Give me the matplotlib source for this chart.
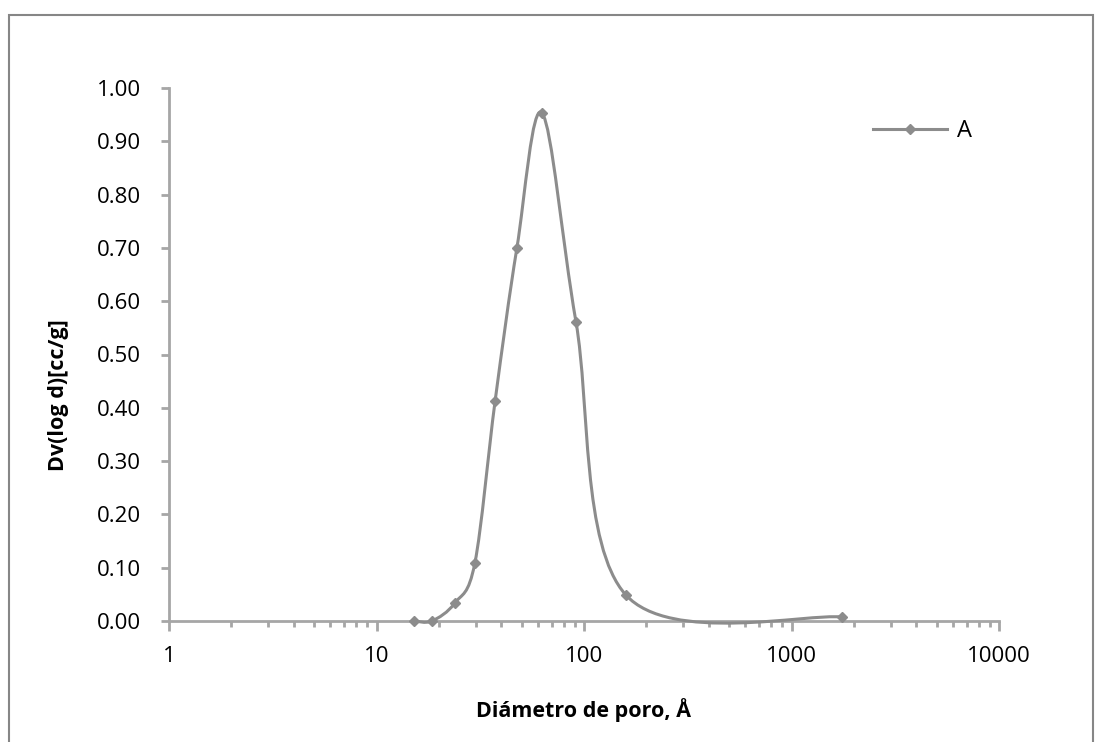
import matplotlib.pyplot as plt
import numpy as np
from matplotlib.path import Path
from matplotlib.patches import PathPatch, Rectangle
from matplotlib.lines import Line2D
from matplotlib.ticker import FixedLocator, LogLocator, NullFormatter

# datos
diametro = [15.2, 18.5, 23.9, 29.8, 37.3, 47.5, 62.8, 91.5, 159, 1750]
dv = [0.0, 0.0, 0.034, 0.109, 0.413, 0.700, 0.953, 0.561, 0.049, 0.0075]
yticks = [0.0, 0.1, 0.2, 0.3, 0.4, 0.5, 0.6, 0.7, 0.8, 0.9, 1.0]
xticks = [1, 10, 100, 1000, 10000]

gris = '#8c8c8c'
eje = '#a6a6a6'
plt.rcParams['font.family'] = ['Open Sans', 'DejaVu Sans']

fig = plt.figure(figsize=(10.96, 7.42), dpi=100)
fig.patches.append(Rectangle((9 / 1096, -0.01), 1084 / 1096, 1 - 15 / 742 + 0.01,
                             transform=fig.transFigure, fill=False,
                             edgecolor='#868686', linewidth=1.5))
ax = fig.add_axes([169 / 1096, 1 - 621 / 742, 830 / 1096, 533 / 742])

# linea suavizada tipo Excel (Catmull-Rom en espacio log-x)
lx = np.log10(diametro)
y = np.array(dv)
n = len(lx)
verts = [(lx[0], y[0])]
codes = [Path.MOVETO]
for i in range(n - 1):
    p0 = np.array([lx[max(i - 1, 0)], y[max(i - 1, 0)]])
    p1 = np.array([lx[i], y[i]])
    p2 = np.array([lx[i + 1], y[i + 1]])
    p3 = np.array([lx[min(i + 2, n - 1)], y[min(i + 2, n - 1)]])
    c1 = p1 + (p2 - p0) / 6
    c2 = p2 - (p3 - p1) / 6
    verts += [tuple(c1), tuple(c2), tuple(p2)]
    codes += [Path.CURVE4] * 3
verts = [(10 ** vx, vy) for vx, vy in verts]
ax.add_patch(PathPatch(Path(verts, codes), facecolor='none', edgecolor=gris,
                       linewidth=2.2, zorder=3, clip_on=False))
ax.plot(diametro, dv, linestyle='none', marker='D', markersize=5,
        color=gris, zorder=4, clip_on=False)

ax.set_xscale('log')
ax.set_xlim(1, 10000)
ax.set_ylim(0, 1.0)
ax.xaxis.set_major_locator(FixedLocator(xticks))
ax.xaxis.set_minor_locator(LogLocator(base=10, subs=np.arange(2, 10)))
ax.xaxis.set_minor_formatter(NullFormatter())
ax.set_xticklabels([str(v) for v in xticks])
ax.set_yticks(yticks)
ax.set_yticklabels(['%.2f' % v for v in yticks])

for s in ['top', 'right']:
    ax.spines[s].set_visible(False)
for s in ['left', 'bottom']:
    ax.spines[s].set_color(eje)
    ax.spines[s].set_linewidth(2)
ax.tick_params(axis='both', which='major', color=eje, width=2, labelsize=16,
               direction='out')
ax.tick_params(axis='x', which='major', length=7, pad=11)
ax.tick_params(axis='x', which='minor', length=4, width=2, color=eje, direction='out')
ax.tick_params(axis='y', which='major', length=6, pad=14)

ax.set_xlabel('Diámetro de poro, Å', fontsize=15.5, fontweight='bold')
ax.xaxis.set_label_coords(0.5, (621 - 698) / 533)
ax.set_ylabel('Dv(log d)[cc/g]', fontsize=15.5, fontweight='bold')
ax.yaxis.set_label_coords((69 - 169) / 830, (621 - 395) / 533)

ax.legend([Line2D([], [], color=gris, linewidth=2.2, marker='D', markersize=5)], ['A'],
          loc='center left', bbox_to_anchor=((873 - 169) / 830, (621 - 131) / 533),
          frameon=False, borderpad=0, borderaxespad=0,
          fontsize=17, handlelength=3.13, handletextpad=0.42)

fig.savefig('out.png', dpi=100)
